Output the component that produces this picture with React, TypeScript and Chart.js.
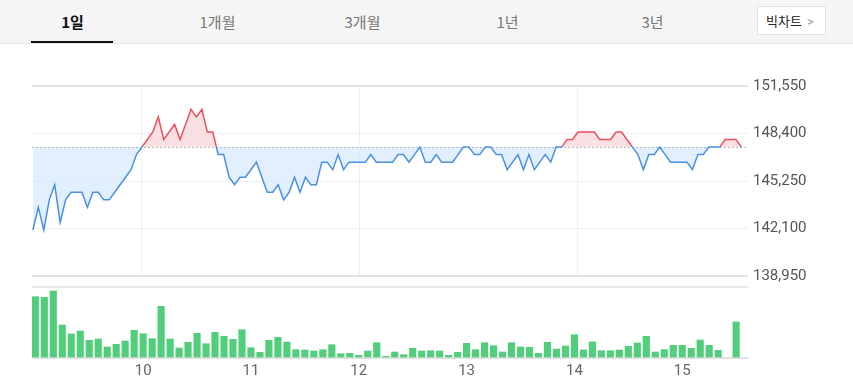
import React, { useEffect, useRef } from "react";
import { Chart, registerables } from "chart.js";

Chart.register(...registerables);

// ---- data ----
const TABS = ["1일", "1개월", "3개월", "1년", "3년"];
const BIG_CHART_LABEL = "빅차트";

const PRICE_STEP_MINUTES = 3; // one price point every 3 minutes from 09:00
const PRICES = [
  142000, 143500, 142000, 144000, 145000, 142500, 144000, 144500, 144500, 144500,
  143500, 144500, 144500, 144000, 144000, 144500, 145000, 145500, 146000, 147000,
  147500, 148000, 148500, 149500, 148000, 148500, 149000, 148000, 149000, 150000,
  149500, 150000, 148500, 148500, 147000, 147000, 145500, 145000, 145500, 145500,
  146000, 146500, 145500, 144500, 144500, 145000, 144000, 144500, 145500, 144500,
  145500, 145000, 145000, 146500, 146500, 146000, 147000, 146000, 146500, 146500,
  146500, 146500, 147000, 146500, 146500, 146500, 146500, 147000, 147000, 146500,
  147000, 147500, 146500, 146500, 147000, 146500, 146500, 146500, 147000, 147500,
  147500, 147000, 147000, 147500, 147500, 147000, 147000, 146000, 146500, 147000,
  146000, 147000, 146000, 146500, 147000, 146500, 147500, 147500, 148000, 148000,
  148500, 148500, 148500, 148500, 148000, 148000, 148000, 148500, 148500, 148000,
  147500, 147000, 146000, 147000, 147000, 147500, 147000, 146500, 146500, 146500,
  146500, 146000, 147000, 147000, 147500, 147500, 147500, 148000, 148000, 148000,
  147500,
];
const BASE_PRICE = 147500;
const PRICE_TICKS = [138950, 142100, 145250, 148400, 151550];
const PRICE_GRID_MINUTES = [60, 180, 300];

// 5-minute volume slots from 09:00 (slot 77 = 15:25 has no trade)
const VOLUMES = [
  61300, 60700, 67000, 33000, 24000, 27000, 17700, 19000, 11000, 13700,
  17000, 27700, 24300, 19300, 51700, 19000, 10000, 15700, 24700, 14300,
  25700, 21700, 18700, 28300, 10300, 5700, 17700, 20700, 16000, 8300,
  8000, 7000, 8300, 13300, 4300, 4700, 2700, 7000, 15300, 1700,
  6000, 3300, 9700, 7000, 7300, 7000, 2700, 5700, 14700, 8300,
  15300, 12300, 6000, 15300, 11000, 10700, 4700, 15700, 9000, 12000,
  23300, 8000, 16000, 7300, 7300, 8000, 11700, 15000, 21700, 6000,
  8300, 12700, 12700, 9700, 18000, 12700, 7700, null, 36000,
];
const VOLUME_MAX = 71000;
const HOUR_LABELS = ["10", "11", "12", "13", "14", "15"];

// ---- styles ----
const RED = "#e9515c";
const BLUE = "#4a90e2";
const RED_FILL = "rgba(250, 214, 218, 0.75)";
const BLUE_FILL = "rgba(214, 232, 253, 0.7)";
const GREEN = "#52cd7b";
const AXIS_FONT = { family: "Roboto, 'Noto Sans', sans-serif", size: 15 };

const RIGHT_AXIS_WIDTH = 105;
const LEFT_PAD = 32;

const baseLinePlugin = {
  id: "baseLine",
  beforeDatasetDraw(chart: any) {
    const { ctx, chartArea, scales } = chart;
    const y = Math.round(scales.y.getPixelForValue(BASE_PRICE)) + 0.5;
    ctx.save();
    ctx.strokeStyle = "#b8b8b8";
    ctx.lineWidth = 1;
    ctx.setLineDash([2, 2]);
    ctx.beginPath();
    ctx.moveTo(chartArea.left, y);
    ctx.lineTo(chartArea.right, y);
    ctx.stroke();
    ctx.restore();
  },
};

function PriceChart() {
  const ref = useRef<HTMLCanvasElement | null>(null);
  useEffect(() => {
    if (!ref.current) return;
    const chart = new Chart(ref.current, {
      type: "line",
      data: {
        datasets: [
          {
            data: PRICES.map((p, i) => ({ x: i * PRICE_STEP_MINUTES, y: p })),
            borderWidth: 1.5,
            pointRadius: 0,
            tension: 0,
            borderColor: (c: any) => {
              const { chartArea, scales, ctx } = c.chart;
              if (!chartArea) return BLUE;
              const y = scales.y.getPixelForValue(BASE_PRICE) - 1.2;
              const t = Math.min(1, Math.max(0, (y - chartArea.top) / (chartArea.bottom - chartArea.top)));
              const g = ctx.createLinearGradient(0, chartArea.top, 0, chartArea.bottom);
              g.addColorStop(0, RED);
              g.addColorStop(t, RED);
              g.addColorStop(t, BLUE);
              g.addColorStop(1, BLUE);
              return g;
            },
            fill: { target: { value: BASE_PRICE }, above: RED_FILL, below: BLUE_FILL },
          } as any,
        ],
      },
      options: {
        animation: false,
        responsive: false,
        events: [],
        layout: { padding: { left: LEFT_PAD, top: 36, bottom: 13, right: 0 } },
        plugins: { legend: { display: false }, tooltip: { enabled: false } },
        scales: {
          x: {
            type: "linear",
            min: -0.5,
            max: 393.6,
            ticks: { display: false },
            border: { display: false },
            grid: { color: "#efefef", lineWidth: 1, drawTicks: false },
            afterBuildTicks: (s: any) => {
              s.ticks = PRICE_GRID_MINUTES.map((v) => ({ value: v }));
            },
            afterFit: (s: any) => {
              s.height = 0;
            },
          },
          y: {
            type: "linear",
            position: "right",
            min: PRICE_TICKS[0],
            max: PRICE_TICKS[PRICE_TICKS.length - 1],
            border: { display: false },
            grid: {
              drawTicks: false,
              color: (c: any) => (c.index === 0 || c.index === PRICE_TICKS.length - 1 ? "#e3e3e3" : "#eeeeee"),
              lineWidth: (c: any) => (c.index === 0 || c.index === PRICE_TICKS.length - 1 ? 2 : 1),
            },
            ticks: {
              padding: 5,
              color: "#555",
              font: AXIS_FONT,
              callback: (v: any) => Number(v).toLocaleString("en-US"),
            },
            afterBuildTicks: (s: any) => {
              s.ticks = PRICE_TICKS.map((v) => ({ value: v }));
            },
            afterFit: (s: any) => {
              s.width = RIGHT_AXIS_WIDTH;
            },
          },
        },
      },
      plugins: [baseLinePlugin],
    } as any);
    return () => chart.destroy();
  }, []);
  return (
    <canvas
      ref={ref}
      width={853}
      height={240}
      style={{ position: "absolute", left: 0, top: 50, width: 853, height: 240 }}
    />
  );
}

function VolumeChart() {
  const ref = useRef<HTMLCanvasElement | null>(null);
  useEffect(() => {
    if (!ref.current) return;
    const chart = new Chart(ref.current, {
      type: "bar",
      data: {
        datasets: [
          {
            data: VOLUMES.map((v, k) => ({ x: k, y: v })),
            backgroundColor: GREEN,
            barThickness: 6.5,
            borderWidth: 0,
          } as any,
        ],
      },
      options: {
        animation: false,
        responsive: false,
        events: [],
        layout: { padding: { left: LEFT_PAD, top: 7, bottom: 0, right: 0 } },
        plugins: { legend: { display: false }, tooltip: { enabled: false } },
        scales: {
          x: {
            type: "linear",
            offset: false,
            min: -0.37,
            max: 79.32,
            border: { display: false },
            grid: { display: false, offset: false },
            ticks: {
              autoSkip: false,
              maxRotation: 0,
              padding: -4,
              color: "#666",
              font: AXIS_FONT,
              callback: (_v: any, i: number) => HOUR_LABELS[i],
            },
            afterBuildTicks: (s: any) => {
              s.ticks = HOUR_LABELS.map((h) => ({ value: (Number(h) - 9) * 12 }));
            },
            afterFit: (s: any) => {
              s.height = 34;
            },
          },
          y: {
            type: "linear",
            position: "right",
            min: 0,
            max: VOLUME_MAX,
            border: { display: false },
            grid: {
              drawTicks: false,
              color: (c: any) => (c.index === 0 ? "#e0e0e0" : "#e8e8e8"),
              lineWidth: 2,
            },
            ticks: { display: false },
            afterBuildTicks: (s: any) => {
              s.ticks = [{ value: 0 }, { value: VOLUME_MAX }];
            },
            afterFit: (s: any) => {
              s.width = RIGHT_AXIS_WIDTH;
            },
          },
        },
      },
    } as any);
    return () => chart.destroy();
  }, []);
  return (
    <canvas
      ref={ref}
      width={853}
      height={112}
      style={{ position: "absolute", left: 0, top: 280, width: 853, height: 112 }}
    />
  );
}

export default function App() {
  return (
    <div
      style={{
        position: "absolute",
        left: 0,
        top: 0,
        width: 853,
        height: 392,
        background: "#fff",
        overflow: "hidden",
        fontFamily: "'Noto Sans CJK KR', Roboto, sans-serif",
      }}
    >
      <div
        style={{
          position: "absolute",
          left: 0,
          top: 0,
          width: 853,
          height: 43,
          background: "#f5f5f5",
          borderBottom: "1px solid #e6e6e6",
        }}
      >
        {TABS.map((t, i) => (
          <div
            key={t}
            style={{
              position: "absolute",
              left: i * 145,
              top: 0,
              width: 145,
              height: 43,
              lineHeight: "43px",
              textAlign: "center",
              fontSize: 15,
              color: i === 0 ? "#111" : "#777",
              fontWeight: i === 0 ? 700 : 400,
            }}
          >
            {t}
          </div>
        ))}
        <div style={{ position: "absolute", left: 31, top: 41, width: 82, height: 2, background: "#111" }} />
        <div
          style={{
            position: "absolute",
            left: 757,
            top: 6,
            width: 69,
            height: 29,
            boxSizing: "border-box",
            background: "#fff",
            border: "1px solid #e3e3e3",
            fontSize: 13,
            lineHeight: "27px",
            color: "#222",
            paddingLeft: 8,
            whiteSpace: "nowrap",
          }}
        >
          {BIG_CHART_LABEL}
          <span style={{ color: "#999", marginLeft: 5, fontFamily: "Roboto, sans-serif" }}>{">"}</span>
        </div>
      </div>
      <PriceChart />
      <VolumeChart />
    </div>
  );
}
